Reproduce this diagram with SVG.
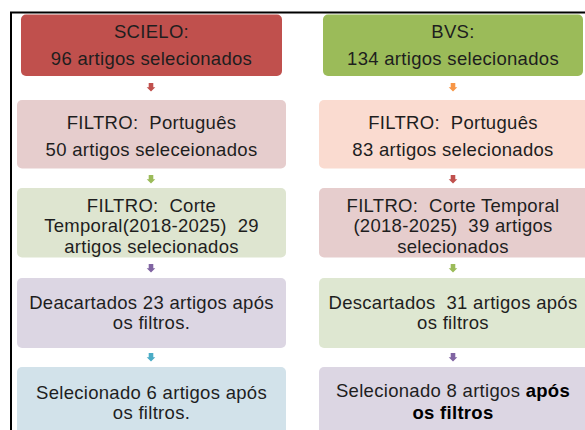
<svg xmlns="http://www.w3.org/2000/svg" width="585" height="430" viewBox="0 0 585 430">
<style>
text{font-family:"Liberation Sans",Arial,sans-serif;font-size:18.5px;letter-spacing:0.3px;fill:#1e1e1e;text-anchor:middle;white-space:pre}
.b{fill:#000;font-weight:bold}
</style>
<defs>
<path id="arr" d="M-2.3,0 H2.3 V4.3 H4.3 L0,8.5 L-4.3,4.3 H-2.3 Z"/>
</defs>
<rect width="585" height="430" fill="#fff"/>
<path d="M11,430 V12.5 H585" fill="none" stroke="#000" stroke-width="2"/>
<g id="scielo"><rect x="21" y="14.5" width="261" height="61.5" rx="5" fill="#C0504D"/>
<text x="151.5" y="37.5">SCIELO:</text><text x="151.5" y="65">96 artigos selecionados</text></g>
<g id="s-port"><rect x="17" y="100" width="269" height="68.5" rx="5" fill="#E6CDCD"/>
<text x="151.5" y="128.5">FILTRO:  Português</text><text x="151.5" y="155.5">50 artigos seleceionados</text></g>
<g id="s-corte"><rect x="17" y="188" width="269" height="69.5" rx="5" fill="#DEE5D0"/>
<text x="151.5" y="211.5">FILTRO:  Corte</text><text x="151.5" y="232">Temporal(2018-2025)  29</text><text x="151.5" y="252.5">artigos selecionados</text></g>
<g id="s-desc"><rect x="17" y="278" width="269" height="70" rx="5" fill="#DCD6E3"/>
<text x="151.5" y="309">Deacartados 23 artigos após</text><text x="151.5" y="329">os filtros.</text></g>
<g id="s-sel"><rect x="17" y="367" width="269" height="80" rx="5" fill="#D2E2EA"/>
<text x="151.5" y="398.5">Selecionado 6 artigos após</text><text x="151.5" y="418.5">os filtros.</text></g>
<g id="bvs"><rect x="323" y="14.5" width="260" height="61.5" rx="5" fill="#9BBB59"/>
<text x="453" y="37.5">BVS:</text><text x="453" y="65">134 artigos selecionados</text></g>
<g id="b-port"><rect x="319" y="100" width="272" height="68.5" rx="5" fill="#FADBD0"/>
<text x="453" y="128.5">FILTRO:  Português</text><text x="453" y="155.5">83 artigos selecionados</text></g>
<g id="b-corte"><rect x="319" y="188" width="272" height="69.5" rx="5" fill="#E6CDCD"/>
<text x="453" y="211.5">FILTRO:  Corte Temporal</text><text x="453" y="232">(2018-2025)  39 artigos</text><text x="453" y="252.5">selecionados</text></g>
<g id="b-desc"><rect x="319" y="278" width="272" height="70" rx="5" fill="#DEE7D1"/>
<text x="453" y="309">Descartados  31 artigos após</text><text x="453" y="329">os filtros</text></g>
<g id="b-sel"><rect x="319" y="367" width="272" height="80" rx="5" fill="#DCD6E3"/>
<text x="453" y="396.5">Selecionado 8 artigos <tspan class="b">após</tspan></text><text x="453" y="418.5" class="b">os filtros</text></g>
<g id="connectors">
<use href="#arr" x="151" y="83" fill="#C0504D"/>
<use href="#arr" x="151" y="175" fill="#9BBB59"/>
<use href="#arr" x="151" y="264" fill="#8064A2"/>
<use href="#arr" x="151" y="353" fill="#4BACC6"/>
<use href="#arr" x="453" y="83" fill="#F79646"/>
<use href="#arr" x="453" y="175" fill="#C0504D"/>
<use href="#arr" x="453" y="264" fill="#9BBB59"/>
<use href="#arr" x="453" y="353" fill="#8064A2"/>
</g>
</svg>
